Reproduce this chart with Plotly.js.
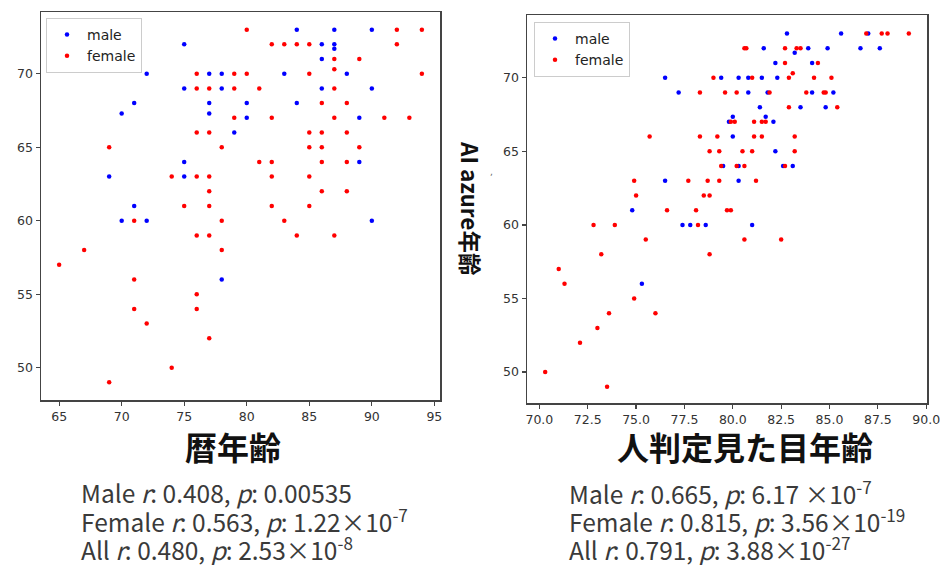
<!DOCTYPE html>
<html>
<head>
<meta charset="utf-8">
<script src="https://cdn.plot.ly/plotly-3.0.1.min.js"></script>
<style>html,body{margin:0;padding:0;background:#fff;}#chart{width:944px;height:565px;}</style>
</head>
<body>
<div id="chart"></div>
<script>
// Left panel: chronological age (暦年齢) vs AI azure age
const leftMaleX = [75,72,77,78,75,78,71,77,70,77,79,75,69,75,71,70,72,78,84,87,90,86,87,87,86,83,88,86,90,80,84,80,89,89,90];
const leftMaleY = [72,70,70,70,69,69,68,68,67.3,67.3,66,64,63,63,61,60,60,56,73,73,73,72,72,71.7,71,70,70,69,69,68,68,67,67,64,60];
const leftFemaleX = [76,79,76,77,79,79,76,77,69,78,74,76,77,77,80,92,94,82,83,84,85,92,87,89,87,80,85,94,81,87,86,88,82,87,91,93,85,86,88,85,86,89,81,82,86,88,82,85,86,88,75,77,71,78,76,77,78,67,65,71,76,76,71,72,77,74,69,82,85,83,84,87];
const leftFemaleY = [70,70,69,69,69,67,66,66,65,65,63,63,63,62,73,73,73,72,72,72,72,72,71,71,70.3,70,70,70,69,69,68,68,67,67,67,67,66,66,66,65,65,65,64,64,64,64,63,63,62,62,61,61,60,60,59,59,58,58,57,56,55,54,54,53,52,50,49,61,61,60,59,59];
// Right panel: human-judged apparent age (人判定見た目年齢) vs AI azure age
const rightMaleX = [76.5,79.4,77.2,79.8,79.5,76.5,82.8,85.6,87.0,81.6,83.9,84.9,86.6,87.6,83.2,82.2,84.1,80.3,80.8,81.5,82.3,80.8,81.8,84.1,85.2,81.4,83.5,84.8,80.0,81.7,82.1,80.0,82.2,80.3,82.6,83.1,80.3,74.8,77.4,77.8,78.6,75.3,81.0];
const rightMaleY = [70,70,69,67,64,63,73,73,73,72,72,72,72,72,71.7,71,71,70,70,70,70,69,69,69,69,68,68,68,67.35,67.35,67,66,65,64,64,64,63,61,60,60,60,56,60];
const rightFemaleX = [79.0,78.3,79.6,75.7,78.3,79.2,78.8,79.3,79.4,74.9,77.7,78.7,79.3,75.0,78.5,78.8,86.9,87.7,88.0,89.1,80.6,80.7,82.7,83.3,83.5,82.7,84.4,83.1,81.0,82.9,84.2,85.1,80.2,81.9,83.8,84.7,84.8,82.9,85.4,79.9,80.1,81.1,81.5,81.7,81.1,81.5,83.2,80.5,81.0,83.2,80.2,80.6,82.7,81.2,76.6,78.1,79.7,72.8,73.9,78.2,75.5,73.2,78.8,71.0,71.3,74.9,73.6,76.0,73.0,72.1,70.3,73.5,79.9,80.6,82.5];
const rightFemaleY = [70,69,69,66,66,66,65,65,64,63,63,63,63,62,62,62,73,73,73,73,72,72,72,72,72,71,71,70.3,70,70,70,70,69,69,69,69,69,68,68,67,67,67,67,67,66,66,66,65,65,65,64,64,64,63,61,61,61,60,60,60,59,58,58,57,56,55,54,54,53,52,50,49,61,59,59];

const seriesNames = ['male','female'];
const seriesColors = ['#0000ff','#ff0000'];
const leftXTicks = [65,70,75,80,85,90,95];
const rightXTicks = [70,72.5,75,77.5,80,82.5,85,87.5,90];
const yTicks = [50,55,60,65,70];
const xTitleLeft = '暦年齢';
const xTitleRight = '人判定見た目年齢';
const yTitleRight = 'AI azure年齢';
const statsLeft = ['Male <i>r</i>: 0.408, <i>p</i>: 0.00535','Female <i>r</i>: 0.563, <i>p</i>: 1.22×10<sup>-7</sup>','All <i>r</i>: 0.480, <i>p</i>: 2.53×10<sup>-8</sup>'];
const statsRight = ['Male <i>r</i>: 0.665, <i>p</i>: 6.17 ×10<sup>-7</sup>','Female <i>r</i>: 0.815, <i>p</i>: 3.56×10<sup>-19</sup>','All <i>r</i>: 0.791, <i>p</i>: 3.88×10<sup>-27</sup>'];

function pts(x, y, i, xa, ya, lg) {
  return {x: x, y: y, type: 'scatter', mode: 'markers', name: seriesNames[i],
    xaxis: xa, yaxis: ya, legend: lg,
    marker: {color: seriesColors[i], size: 4.5}};
}
const traces = [
  pts(leftMaleX, leftMaleY, 0, 'x', 'y', 'legend'),
  pts(leftFemaleX, leftFemaleY, 1, 'x', 'y', 'legend'),
  pts(rightMaleX, rightMaleY, 0, 'x2', 'y2', 'legend2'),
  pts(rightFemaleX, rightFemaleY, 1, 'x2', 'y2', 'legend2')
];

const tickFont = {family: 'DejaVu Sans', size: 12.5, color: '#333'};
const axBase = {showgrid: false, zeroline: false, showline: true, mirror: true,
  linecolor: '#444', linewidth: 1.5, ticks: 'outside', ticklen: 4, tickwidth: 1.2,
  tickcolor: '#444', tickfont: tickFont};

const W = 944, H = 565;
const px = v => v / W, py = v => 1 - v / H;
const annFont = {family: 'Noto Sans CJK JP', size: 24.5, color: '#3a3a3a'};
const annotations = [];
[statsLeft, statsRight].forEach((arr, k) => {
  arr.forEach((t, j) => annotations.push({text: t, xref: 'paper', yref: 'paper',
    x: px(k === 0 ? 79 : 567), y: py(492 + 28 * j), xanchor: 'left', yanchor: 'middle',
    showarrow: false, font: annFont}));
});
annotations.push({text: '<b>' + xTitleLeft + '</b>', xref: 'paper', yref: 'paper', x: px(233), y: py(446),
  xanchor: 'center', yanchor: 'middle', showarrow: false, font: {family: 'Noto Sans CJK JP', size: 32, color: '#111'}});
annotations.push({text: '<b>' + xTitleRight + '</b>', xref: 'paper', yref: 'paper', x: px(745), y: py(446),
  xanchor: 'center', yanchor: 'middle', showarrow: false, font: {family: 'Noto Sans CJK JP', size: 32, color: '#111'}});
annotations.push({text: '<b>' + yTitleRight + '</b>', xref: 'paper', yref: 'paper', x: px(471), y: py(208),
  xanchor: 'center', yanchor: 'middle', textangle: 90, showarrow: false, font: {family: 'Noto Sans CJK JP', size: 22.5, color: '#111'}});
annotations.push({text: ',', xref: 'paper', yref: 'paper', x: px(491), y: py(172),
  xanchor: 'center', yanchor: 'middle', showarrow: false, font: {family: 'DejaVu Sans', size: 9, color: '#666'}});

const legendBase = {bgcolor: '#fff', bordercolor: '#ccc', borderwidth: 1,
  font: {family: 'DejaVu Sans', size: 14, color: '#222'}, xanchor: 'left', yanchor: 'top',
  itemsizing: 'trace', tracegroupgap: 0};

const layout = {
  width: W, height: H, margin: {l: 0, r: 0, t: 0, b: 0},
  paper_bgcolor: '#fff', plot_bgcolor: '#fff', showlegend: true,
  xaxis: Object.assign({}, axBase, {domain: [px(41), px(440)], range: [63.55, 95.45], tickvals: leftXTicks, anchor: 'y'}),
  yaxis: Object.assign({}, axBase, {domain: [py(400), py(12)], range: [47.8, 74.2], tickvals: yTicks, anchor: 'x'}),
  xaxis2: Object.assign({}, axBase, {domain: [px(527), px(927)], range: [69.36, 90.04], tickvals: rightXTicks, tickformat: '.1f', anchor: 'y2'}),
  yaxis2: Object.assign({}, axBase, {domain: [py(403), py(15)], range: [47.9, 74.26], tickvals: yTicks, anchor: 'x2'}),
  legend: Object.assign({}, legendBase, {x: px(46), y: py(18)}),
  legend2: Object.assign({}, legendBase, {x: px(534), y: py(22)}),
  annotations: annotations
};
Plotly.newPlot('chart', traces, layout, {displayModeBar: false, staticPlot: true});
</script>
</body>
</html>
